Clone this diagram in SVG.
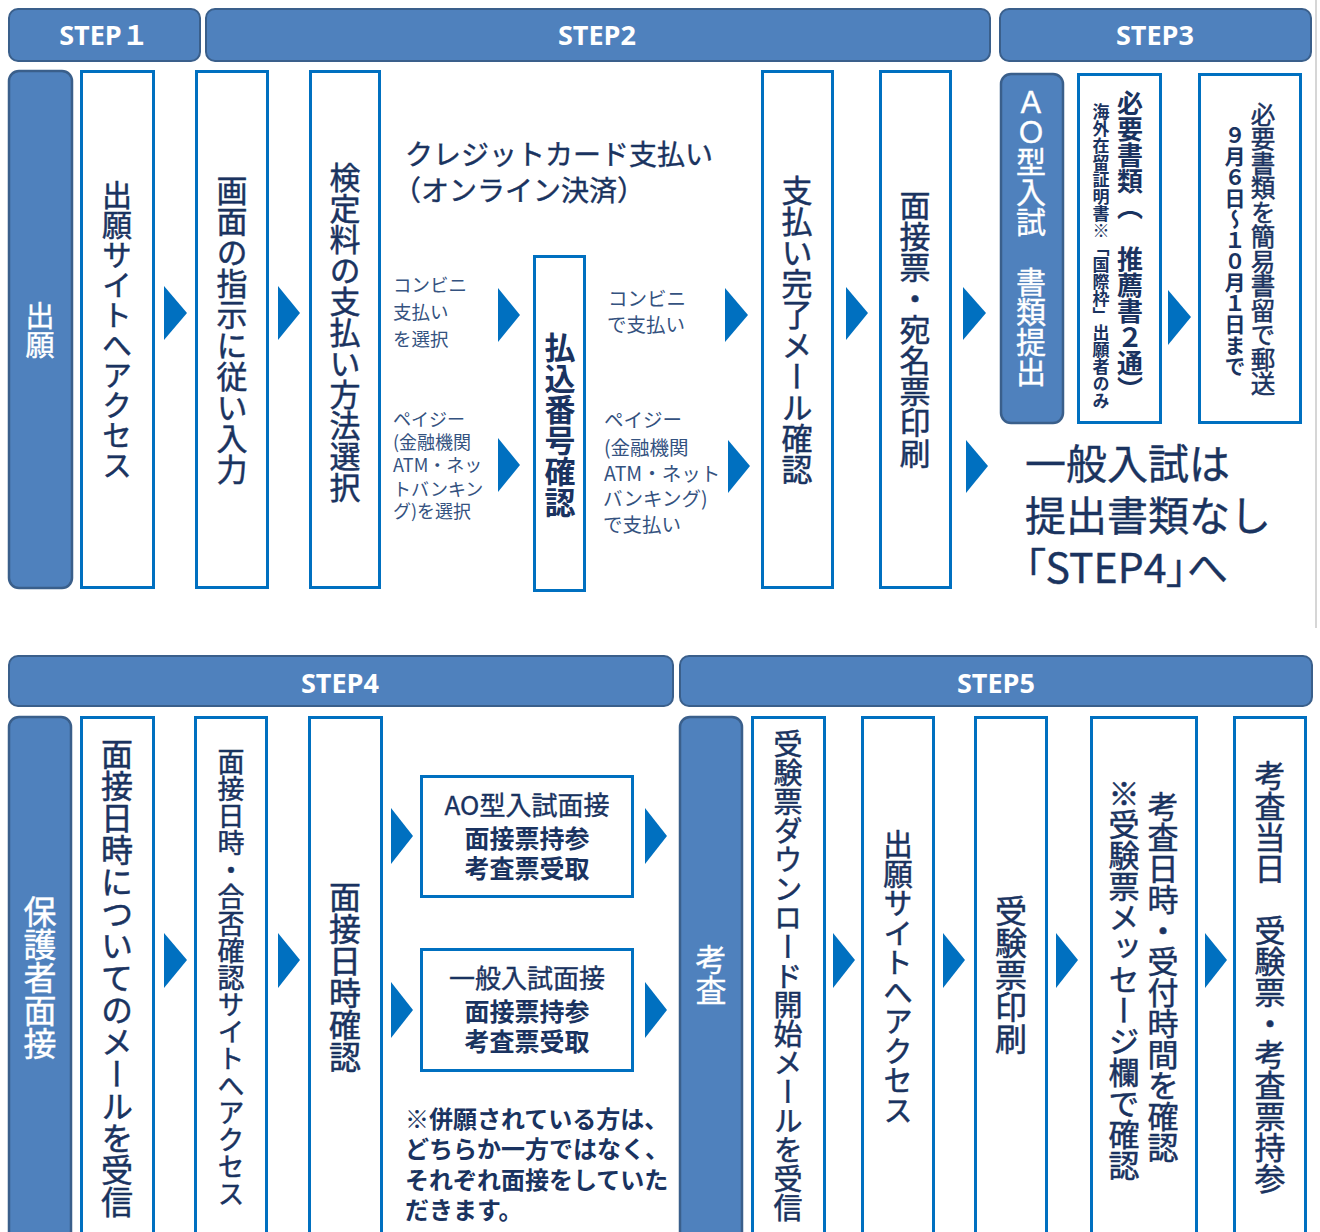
<svg xmlns="http://www.w3.org/2000/svg" width="1320" height="1232" viewBox="0 0 1320 1232">
<style>
.hdr{fill:#4F81BD;stroke:#3A5F8B;stroke-width:2}
.side{fill:#4F81BD;stroke:#3A5F8B;stroke-width:2.5}
.box{fill:#fff;stroke:#0070C0;stroke-width:3}
.arr{fill:#0070C0}
.ht{font-family:"Open Sans","Liberation Sans","Noto Sans CJK JP",sans-serif;font-weight:700;font-size:27px;fill:#fff;text-anchor:middle}
.v{font-family:"Noto Sans CJK JP",sans-serif;writing-mode:vertical-rl;text-anchor:middle;fill:#1A3360;stroke:#1A3360;stroke-width:0.5}
.vw{font-family:"Noto Sans CJK JP",sans-serif;writing-mode:vertical-rl;text-anchor:middle;fill:#fff;stroke:#fff;stroke-width:0.4}
.j{font-family:"Noto Sans CJK JP",sans-serif;fill:#1A3360}
.s{font-family:"Noto Sans CJK JP",sans-serif;fill:#34527F}
.b{font-weight:700;stroke:none}
.c{text-anchor:middle}
</style>
<rect width="1320" height="1232" fill="#fff"/>
<line x1="1316" y1="0" x2="1316" y2="628" stroke="#c8c8c8" stroke-width="1.5"/>

<g id="step1"><rect class="hdr" x="9" y="9" width="191" height="52" rx="9"/><text class="ht" x="104" y="45">STEP１</text></g>
<g id="step2"><rect class="hdr" x="206" y="9" width="784" height="52" rx="9"/><text class="ht" x="597" y="45">STEP2</text></g>
<g id="step3"><rect class="hdr" x="1000" y="9" width="311" height="52" rx="9"/><text class="ht" x="1155" y="45">STEP3</text></g>
<g id="step4"><rect class="hdr" x="9" y="656" width="664" height="50" rx="9"/><text class="ht" x="340" y="693">STEP4</text></g>
<g id="step5"><rect class="hdr" x="680" y="656" width="632" height="50" rx="9"/><text class="ht" x="996" y="693">STEP5</text></g>

<g id="n-shutsugan"><rect class="side" x="9" y="71" width="63" height="517" rx="10"/><text class="vw" x="40" y="330" font-size="29">出願</text></g>
<g id="n-access"><rect class="box" x="81.5" y="71.5" width="72" height="516"/><text class="v" x="117" y="330" font-size="30">出願サイトへアクセス</text></g>
<g id="n-input"><rect class="box" x="196.5" y="71.5" width="71" height="516"/><text class="v" x="232" y="330" font-size="31">画面の指示に従い入力</text></g>
<g id="n-method"><rect class="box" x="310.5" y="71.5" width="69" height="516"/><text class="v" x="345" y="332" font-size="31">検定料の支払い方法選択</text></g>
<g id="n-credit"><text class="j" font-size="28" stroke="#1A3360" stroke-width="0.4"><tspan x="405" y="165">クレジットカード支払い</tspan><tspan x="393" y="201">（オンライン決済）</tspan></text></g>
<g id="n-conv-sel"><text class="s" font-size="18.5"><tspan x="393" y="292">コンビニ</tspan><tspan x="393" y="319">支払い</tspan><tspan x="393" y="346">を選択</tspan></text></g>
<g id="n-pay-sel"><text class="s" font-size="18"><tspan x="393" y="426">ペイジー</tspan><tspan x="393" y="449">(金融機関</tspan><tspan x="393" y="472">ATM・ネッ</tspan><tspan x="393" y="496">トバンキン</tspan><tspan x="393" y="518">グ)を選択</tspan></text></g>
<g id="n-furikomi"><rect class="box" x="534.5" y="256.5" width="50" height="334"/><text class="v b" x="560" y="425" font-size="31">払込番号確認</text></g>
<g id="n-conv-pay"><text class="s" font-size="19.5"><tspan x="608" y="306">コンビニ</tspan><tspan x="607" y="332">で支払い</tspan></text></g>
<g id="n-pay-pay"><text class="s" font-size="19.5"><tspan x="604" y="427">ペイジー</tspan><tspan x="604" y="455">(金融機関</tspan><tspan x="604" y="481">ATM・ネット</tspan><tspan x="603" y="506">バンキング)</tspan><tspan x="603" y="532">で支払い</tspan></text></g>
<g id="n-complete"><rect class="box" x="762.5" y="71.5" width="70" height="516"/><text class="v" x="797" y="330" font-size="31">支払い完了メール確認</text></g>
<g id="n-print"><rect class="box" x="880.5" y="71.5" width="70" height="516"/><text class="v" x="915" y="329" font-size="31">面接票・宛名票印刷</text></g>
<g id="n-ao"><rect class="side" x="1001" y="74" width="62" height="349" rx="10"/><text class="vw" x="1031" y="237" font-size="30">ＡＯ型入試　書類提出</text></g>
<g id="n-docs"><rect class="box" x="1078.5" y="74.5" width="82" height="348"/><text class="v b" x="1130" y="246" font-size="26">必要書類（　推薦書２通）</text><text class="v b" x="1101" y="256" font-size="17">海外在留証明書※「国際枠」出願者のみ</text></g>
<g id="n-mail"><rect class="box" x="1199.5" y="74.5" width="101" height="348"/><text class="v" x="1263" y="249" font-size="24.5">必要書類を簡易書留で郵送</text><text class="v b" x="1235" y="251" font-size="21">９月６日～１０月１日まで</text></g>
<g id="n-general"><text class="j" font-size="41" fill="#1F3A5F" stroke="#1F3A5F" stroke-width="0.4"><tspan x="1025" y="479">一般入試は</tspan><tspan x="1025" y="531">提出書類なし</tspan><tspan x="1025" y="583" style="font-feature-settings:'palt'">「STEP4」へ</tspan></text></g>

<g id="n-hogosha"><rect class="side" x="9" y="717" width="62" height="540" rx="10"/><text class="vw" x="40" y="977" font-size="33">保護者面接</text></g>
<g id="n-mendate-mail"><rect class="box" x="81.5" y="717.5" width="72" height="540"/><text class="v" x="117" y="978" font-size="32">面接日時についてのメールを受信</text></g>
<g id="n-site"><rect class="box" x="195.5" y="717.5" width="71" height="540"/><text class="v" x="231" y="978" font-size="27">面接日時・合否確認サイトへアクセス</text></g>
<g id="n-mendate"><rect class="box" x="309.5" y="717.5" width="72" height="540"/><text class="v" x="345" y="977" font-size="32">面接日時確認</text></g>
<g id="n-ao-int"><rect class="box" x="421.5" y="776.5" width="211" height="120"/><text class="j c" font-size="25"><tspan x="527" y="815" font-size="26" stroke="#1A3360" stroke-width="0.4">AO型入試面接</tspan><tspan x="527" y="848" font-weight="700">面接票持参</tspan><tspan x="527" y="878" font-weight="700">考査票受取</tspan></text></g>
<g id="n-gen-int"><rect class="box" x="421.5" y="949.5" width="211" height="121"/><text class="j c" font-size="25"><tspan x="527" y="988" font-size="26" stroke="#1A3360" stroke-width="0.4">一般入試面接</tspan><tspan x="527" y="1021" font-weight="700">面接票持参</tspan><tspan x="527" y="1051" font-weight="700">考査票受取</tspan></text></g>
<g id="n-note"><text class="j b" font-size="24"><tspan x="405" y="1128">※併願されている方は、</tspan><tspan x="405" y="1158">どちらか一方ではなく、</tspan><tspan x="405" y="1189">それぞれ面接をしていた</tspan><tspan x="405" y="1219">だきます。</tspan></text></g>
<g id="n-kousa"><rect class="side" x="680" y="717" width="62" height="540" rx="10"/><text class="vw" x="711" y="975" font-size="31">考査</text></g>
<g id="n-dl"><rect class="box" x="752.5" y="717.5" width="72" height="540"/><text class="v" x="788" y="976" font-size="29">受験票ダウンロード開始メールを受信</text></g>
<g id="n-access2"><rect class="box" x="862.5" y="717.5" width="71" height="540"/><text class="v" x="898" y="977" font-size="29.5">出願サイトへアクセス</text></g>
<g id="n-print2"><rect class="box" x="975.5" y="717.5" width="71" height="540"/><text class="v" x="1011" y="975" font-size="32">受験票印刷</text></g>
<g id="n-confirm"><rect class="box" x="1091.5" y="717.5" width="105" height="540"/><text class="v" x="1163" y="977" font-size="31">考査日時・受付時間を確認</text><text class="v" x="1124" y="979" font-size="31">※受験票メッセージ欄で確認</text></g>
<g id="n-day"><rect class="box" x="1234.5" y="717.5" width="71" height="540"/><text class="v" x="1270" y="977" font-size="31">考査当日　受験票・考査票持参</text></g>

<g id="connectors">
<polygon class="arr" points="164,286 187,313 164,340"/>
<polygon class="arr" points="278,286 300,313 278,340"/>
<polygon class="arr" points="498,288 520,315 498,342"/>
<polygon class="arr" points="498,438 520,465 498,492"/>
<polygon class="arr" points="725,288 748,315 725,342"/>
<polygon class="arr" points="728,440 750,466 728,493"/>
<polygon class="arr" points="846,287 868,313 846,340"/>
<polygon class="arr" points="963,287 986,313 963,340"/>
<polygon class="arr" points="966,440 988,466 966,493"/>
<polygon class="arr" points="1168,290 1191,317 1168,345"/>
<polygon class="arr" points="164,933 187,960 164,988"/>
<polygon class="arr" points="278,933 300,960 278,988"/>
<polygon class="arr" points="391,808 413,836 391,864"/>
<polygon class="arr" points="391,982 413,1010 391,1038"/>
<polygon class="arr" points="645,808 667,836 645,864"/>
<polygon class="arr" points="645,982 667,1010 645,1038"/>
<polygon class="arr" points="833,933 855,960 833,988"/>
<polygon class="arr" points="943,933 965,960 943,988"/>
<polygon class="arr" points="1056,933 1078,960 1056,988"/>
<polygon class="arr" points="1205,933 1227,960 1205,988"/>
</g>
</svg>
